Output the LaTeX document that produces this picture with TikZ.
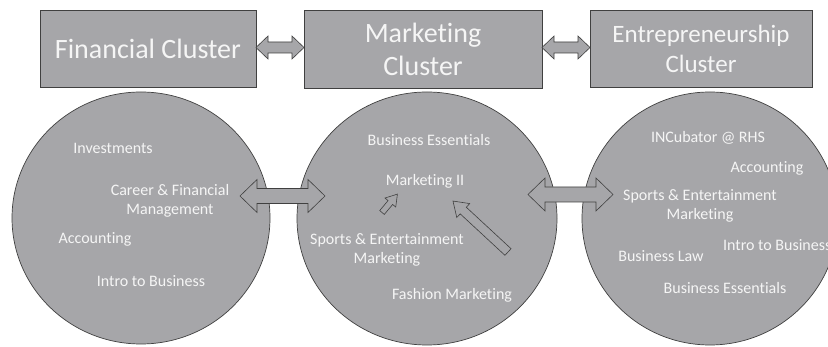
\documentclass[tikz,border=0pt]{standalone}
\usepackage{fontspec}
\setmainfont{Carlito}[Ligatures=NoCommon]
\definecolor{boxgray}{RGB}{166,166,169}
\definecolor{edgegray}{RGB}{64,64,64}
\definecolor{txt}{RGB}{245,245,245}
\tikzset{
  clusterbox/.style={draw=edgegray, line width=0.7pt, fill=boxgray, text=txt, align=center, inner sep=0pt},
  course/.style={text=txt, font=\fontsize{16}{19}\selectfont, align=center, inner sep=0pt},
  blockarrow/.style={draw=edgegray, line width=0.6pt, fill=boxgray, line join=miter},
  circ/.style={draw=edgegray, line width=0.7pt, fill=boxgray}
}
\begin{document}
\begin{tikzpicture}[x=1pt, y=-1pt]
\useasboundingbox (0,0) rectangle (828,347);
\fill[white] (0,0) rectangle (828,347);
% cluster boxes
\node[clusterbox, minimum width=216pt, minimum height=77pt, font=\fontsize{28}{33}\selectfont] (fin) at (148,48.5) {Financial Cluster};
\node[clusterbox, minimum width=238pt, minimum height=78pt, font=\fontsize{28}{33}\selectfont] (mkt) at (423,49) {Marketing\\Cluster};
\node[clusterbox, minimum width=222pt, minimum height=77pt, font=\fontsize{25}{30}\selectfont] (ent) at (701,48.5) {Entrepreneurship\\Cluster};
% circles
\path[circ] (141,218) ellipse [x radius=129pt, y radius=126pt];
\path[circ] (427,218.5) ellipse [x radius=130pt, y radius=126.5pt];
\path[circ] (710,218.5) ellipse [x radius=128pt, y radius=126.5pt];
\node[inner sep=0pt] (cfin) at (141,218) {};
\node[inner sep=0pt] (cmkt) at (427,218) {};
\node[inner sep=0pt] (cent) at (710,218) {};
% top double arrows
\draw[blockarrow] (256,47.5) -- (268,36) -- (268,42) -- (292,42) -- (292,36) -- (304,47.5) -- (292,59) -- (292,53) -- (268,53) -- (268,59) -- cycle;
\draw[blockarrow] (542,47.5) -- (554,36) -- (554,42) -- (578,42) -- (578,36) -- (590,47.5) -- (578,59) -- (578,53) -- (554,53) -- (554,59) -- cycle;
% circle double arrows
\draw[blockarrow] (240,196) -- (257,179.5) -- (257,188.5) -- (308,188.5) -- (308,179.5) -- (325,196) -- (308,212.5) -- (308,203.5) -- (257,203.5) -- (257,212.5) -- cycle;
\draw[blockarrow] (528,194.5) -- (545,178) -- (545,187) -- (596,187) -- (596,178) -- (613,194.5) -- (596,211) -- (596,202) -- (545,202) -- (545,211) -- cycle;
% small arrow (tail 382,212 -> tip 397,194)
\begin{scope}[shift={(382,212.5)}, rotate=50]
\draw[blockarrow] (0,-3) -- (13,-3) -- (13,-7) -- (24,0) -- (13,7) -- (13,3) -- (0,3) -- cycle;
\end{scope}
% long arrow (tail 507,252 -> tip 453,201)
\begin{scope}[shift={(508,252)}, rotate=137.2]
\draw[blockarrow] (0,-4.5) -- (61,-4.5) -- (61,-9.5) -- (75,0) -- (61,9.5) -- (61,4.5) -- (0,4.5) -- cycle;
\end{scope}
% financial courses
\node[course] (f1) at (113,148) {Investments};
\node[course] (f2) at (170,201) {Career \& Financial\\Management};
\node[course] (f3) at (95,239) {Accounting};
\node[course] (f4) at (151,281) {Intro to Business};
% marketing courses
\node[course] (m1) at (429,140) {Business Essentials};
\node[course] (m2) at (425,181) {Marketing II};
\node[course] (m3) at (387,250) {Sports \& Entertainment\\Marketing};
\node[course] (m4) at (452,295) {Fashion Marketing};
% entrepreneurship courses
\node[course] (e1) at (708,138) {INCubator @ RHS};
\node[course] (e2) at (767,168) {Accounting};
\node[course] (e3) at (700,206) {Sports \& Entertainment\\Marketing};
\node[course, anchor=west] (e4) at (723,245) {Intro to Business};
\node[course] (e5) at (661,256) {Business Law};
\node[course] (e6) at (725,288) {Business Essentials};
\end{tikzpicture}
\end{document}
